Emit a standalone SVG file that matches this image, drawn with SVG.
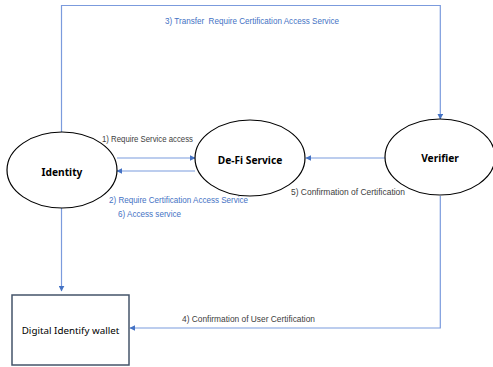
<svg xmlns="http://www.w3.org/2000/svg" width="493" height="367" viewBox="0 0 493 367">
<style>
.n{fill:#fff;stroke:#000;stroke-width:1.2}
.c{fill:none;stroke:#7B9BDD;stroke-width:1.2}
.b{font-family:"Noto Sans","Liberation Sans",sans-serif;font-weight:bold;font-size:10.2px;fill:#000;text-anchor:middle}
.l{font-family:"Liberation Sans",Arial,sans-serif;font-size:9px}
.g{fill:#404040}
.bl{fill:#4472C4}
</style>
<defs>
<marker id="a" viewBox="0 0 10 10" refX="9" refY="5" markerWidth="6" markerHeight="6" orient="auto-start-reverse" markerUnits="userSpaceOnUse"><path d="M0,0 L10,5 L0,10 z" fill="#4472C4"/></marker>
</defs>
<g id="connectors">
<path class="c" d="M61.5,133 V5.5 H440.3 V119" marker-end="url(#a)"/>
<path class="c" d="M117,158 H195" marker-end="url(#a)"/>
<path class="c" d="M195,171 H117" marker-end="url(#a)"/>
<path class="c" d="M385,158 H306" marker-end="url(#a)"/>
<path class="c" d="M61.5,208 V291" marker-end="url(#a)"/>
<path class="c" d="M440.3,196 V328 H130" marker-end="url(#a)"/>
<text class="l bl" x="165" y="24" textLength="174" lengthAdjust="spacingAndGlyphs">3) Transfer&#160; Require Certification Access Service</text>
<text class="l g" x="102" y="142" textLength="91" lengthAdjust="spacingAndGlyphs">1) Require Service access</text>
<text class="l bl" x="109" y="203" textLength="139" lengthAdjust="spacingAndGlyphs">2) Require Certification Access Service</text>
<text class="l bl" x="118" y="217" textLength="63" lengthAdjust="spacingAndGlyphs">6) Access service</text>
<text class="l g" x="291" y="195" textLength="114" lengthAdjust="spacingAndGlyphs">5) Confirmation of Certification</text>
<text class="l g" x="182" y="322" textLength="133" lengthAdjust="spacingAndGlyphs">4) Confirmation of User Certification</text>
</g>
<g id="identity">
<ellipse class="n" cx="62" cy="170" rx="55" ry="38"/>
<text class="b" x="62" y="175.5">Identity</text>
</g>
<g id="defi">
<ellipse class="n" cx="250" cy="158" rx="55" ry="38"/>
<text class="b" x="250" y="163.5">De-Fi Service</text>
</g>
<g id="verifier">
<ellipse class="n" cx="440" cy="157" rx="55" ry="38"/>
<text class="b" x="440" y="162">Verifier</text>
</g>
<g id="wallet">
<rect x="12" y="295" width="117" height="70" fill="#fff" stroke="#44546A" stroke-width="1.5"/>
<text x="70.5" y="333.5" text-anchor="middle" font-family="Noto Sans, Liberation Sans, sans-serif" font-size="9.8" fill="#000">Digital Identify wallet</text>
</g>
</svg>
